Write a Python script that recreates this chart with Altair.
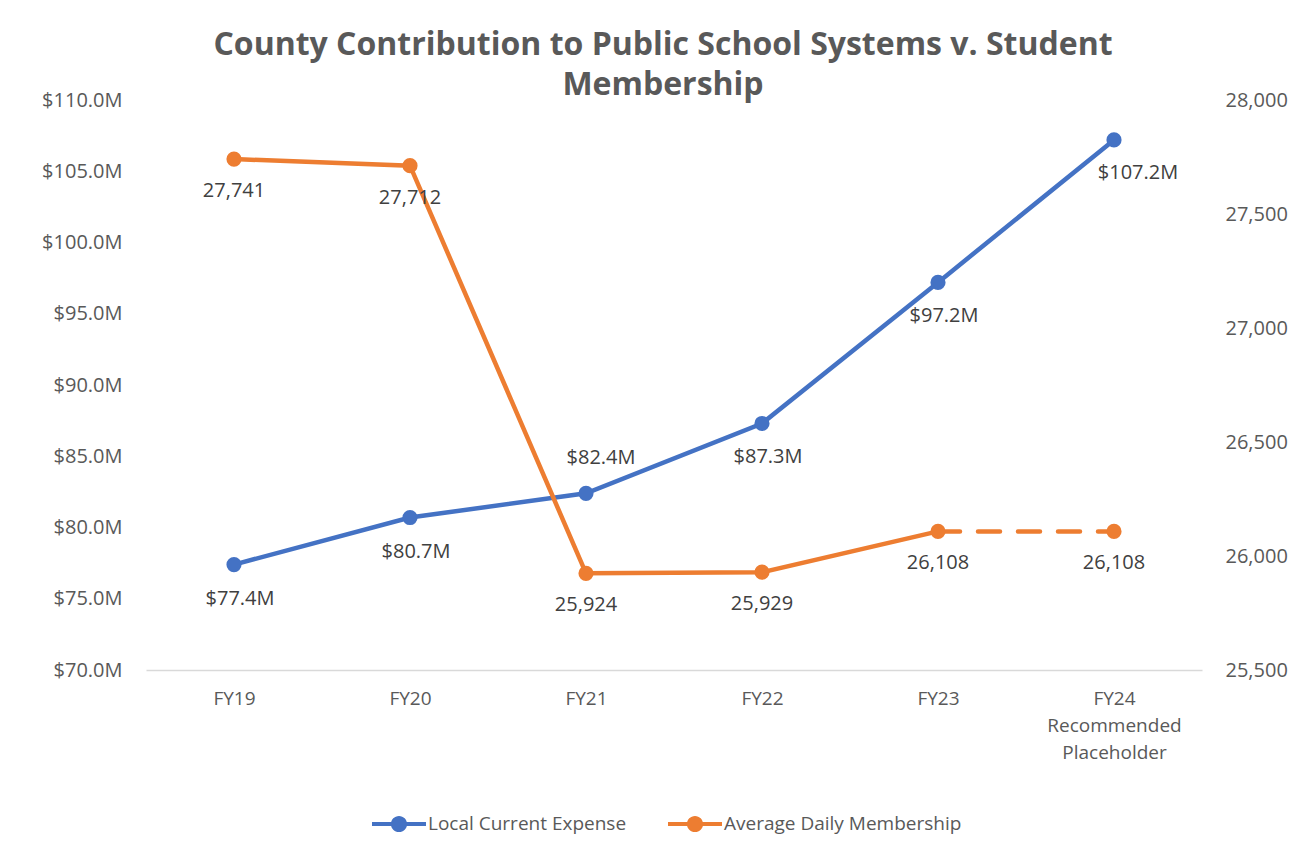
import altair as alt
import pandas as pd

years = ["FY19", "FY20", "FY21", "FY22", "FY23", "FY24 Recommended Placeholder"]
expense = [77.4, 80.7, 82.4, 87.3, 97.2, 107.2]
membership = [27741, 27712, 25924, 25929, 26108, 26108]
left_ticks = [70, 75, 80, 85, 90, 95, 100, 105, 110]
right_ticks = [25500, 26000, 26500, 27000, 27500, 28000]
series = ["Local Current Expense", "Average Daily Membership"]
colors = ["#4472C4", "#ED7D31"]
title_lines = ["County Contribution to Public School Systems v. Student", "Membership"]

df = pd.DataFrame({"year": years, "expense": expense, "membership": membership,
                   "idx": list(range(len(years)))})

FONT = "Open Sans"
AXIS_COLOR = "#595959"
LABEL_COLOR = "#404040"

x_enc = alt.X("year:N", sort=years, scale=alt.Scale(type="point", padding=0.5),
              axis=alt.Axis(title=None, labelExpr="split(datum.label, ' ')",
                            ticks=False, domainColor="#d9d9d9", domainWidth=1.5,
                            labelPadding=19, labelLineHeight=27, labelFontSize=19,
                            labelColor=AXIS_COLOR, labelFont=FONT, labelAngle=0))

color_scale = alt.Scale(domain=series, range=colors)
legend_path = ("M-1,-0.075L1,-0.075L1,0.075L-1,0.075Z "
               "M-0.3,0A0.3,0.3,0,1,1,0.3,0A0.3,0.3,0,1,1,-0.3,0Z")
legend = alt.Legend(orient="none", legendX=225, legendY=696, direction="horizontal",
                    title=None, symbolType=legend_path, symbolSize=2916,
                    labelFontSize=19, labelColor=AXIS_COLOR, labelFont=FONT,
                    labelOffset=1, columnPadding=40, labelLimit=400)

y_left = alt.Y("expense:Q", scale=alt.Scale(domain=[70, 110], nice=False, zero=False),
               axis=alt.Axis(orient="left", title=None, values=left_ticks,
                             labelExpr="'$' + format(datum.value, '.1f') + 'M'",
                             grid=False, ticks=False, domain=False, labelPadding=24,
                             labelFontSize=20, labelColor=AXIS_COLOR, labelFont=FONT))
y_right = alt.Y("membership:Q", scale=alt.Scale(domain=[25500, 28000], nice=False, zero=False),
                axis=alt.Axis(orient="right", title=None, values=right_ticks,
                              labelExpr="format(datum.value, ',')",
                              grid=False, ticks=False, domain=False, labelPadding=23,
                              labelFontSize=20, labelColor=AXIS_COLOR, labelFont=FONT))

base = alt.Chart(df)
money = "'$' + format(datum.expense, '.1f') + 'M'"

blue_line = base.mark_line(color=colors[0], strokeWidth=4.5).encode(x=x_enc, y=y_left)
blue_pts = base.transform_calculate(series=f"'{series[0]}'").mark_point(
    filled=True, size=230, opacity=1).encode(
    x=x_enc, y=y_left,
    color=alt.Color("series:N", scale=color_scale, legend=legend))
blue_lbl_below = base.transform_filter("datum.idx != 2 && datum.idx != 5").transform_calculate(
    lbl=money).mark_text(dy=34, dx=6, fontSize=20, font=FONT, color=LABEL_COLOR).encode(
    x=x_enc, y=y_left, text="lbl:N")
blue_lbl_last = base.transform_filter("datum.idx == 5").transform_calculate(
    lbl=money).mark_text(dy=33, dx=24, fontSize=20, font=FONT, color=LABEL_COLOR).encode(
    x=x_enc, y=y_left, text="lbl:N")
blue_lbl_above = base.transform_filter("datum.idx == 2").transform_calculate(
    lbl=money).mark_text(dy=-35, dx=15, fontSize=20, font=FONT, color=LABEL_COLOR).encode(
    x=x_enc, y=y_left, text="lbl:N")
blue = alt.layer(blue_line, blue_pts, blue_lbl_below, blue_lbl_last, blue_lbl_above)

or_solid = base.transform_filter("datum.idx <= 4").mark_line(
    color=colors[1], strokeWidth=4.5).encode(x=x_enc, y=y_right)
or_dash = base.transform_filter("datum.idx >= 4").mark_line(
    color=colors[1], strokeWidth=4.5, strokeDash=[22, 18], strokeCap="round").encode(
    x=x_enc, y=y_right)
or_pts = base.transform_calculate(series=f"'{series[1]}'").mark_point(
    filled=True, size=230, opacity=1).encode(
    x=x_enc, y=y_right,
    color=alt.Color("series:N", scale=color_scale, legend=legend))
or_lbl = base.mark_text(dy=32, fontSize=20, font=FONT, color=LABEL_COLOR).encode(
    x=x_enc, y=y_right, text=alt.Text("membership:Q", format=","))
orange = alt.layer(or_solid, or_dash, or_pts, or_lbl)

chart = alt.layer(blue, orange).resolve_scale(y="independent").properties(
    width=1056, height=570, autosize="none",
    padding={"left": 138, "top": 92, "right": 100, "bottom": 170},
    title=alt.TitleParams(title_lines, fontSize=32, fontWeight="bold", color=AXIS_COLOR,
                          font=FONT, lineHeight=40, anchor="middle", dx=-11, offset=-12),
).configure_view(strokeWidth=0, stroke="transparent")

chart.save("out.html", embed_options={"renderer": "svg", "actions": False})
